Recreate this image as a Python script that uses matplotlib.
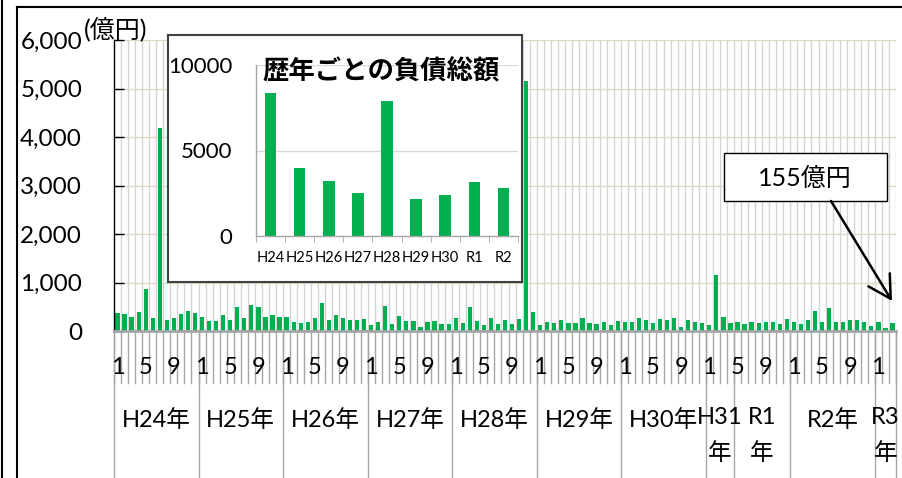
import numpy as np
import matplotlib
matplotlib.use('Agg')
import matplotlib.pyplot as plt
import matplotlib.transforms as mtransforms
from matplotlib.patches import Rectangle, FancyArrowPatch
from matplotlib.lines import Line2D

plt.rcParams['font.family'] = ['Lato', 'Noto Sans CJK JP']

# ---------------- data ----------------
monthly = [
    # H24
    367, 347, 286, 394, 870, 272, 4180, 231, 265, 347, 422, 367,
    # H25
    279, 211, 204, 326, 218, 490, 272, 537, 490, 286, 320, 286,
    # H26
    286, 184, 168, 180, 272, 571, 231, 340, 258, 231, 224, 238,
    # H27
    122, 184, 524, 136, 299, 211, 211, 82, 190, 197, 136, 136,
    # H28
    272, 163, 496, 204, 122, 258, 153, 231, 150, 245, 5155, 388,
    # H29
    116, 190, 163, 218, 163, 163, 258, 163, 136, 190, 129, 204,
    # H30
    177, 177, 258, 231, 163, 245, 218, 258, 75, 218, 177, 163,
    # H31
    122, 1150, 286, 163,
    # R1
    177, 150, 177, 163, 177, 177, 150, 245,
    # R2
    177, 136, 231, 415, 177, 476, 177, 190, 231, 218, 177, 109,
    # R3
    190, 54, 155,
]
month_nums = (list(range(1, 13)) * 7 + [1, 2, 3, 4] + list(range(5, 13))
              + list(range(1, 13)) + [1, 2, 3])
year_groups = ['H24年', 'H25年', 'H26年', 'H27年', 'H28年', 'H29年', 'H30年',
               'H31\n年', 'R1\n年', 'R2年', 'R3\n年']
group_sizes = [12, 12, 12, 12, 12, 12, 12, 4, 8, 12, 3]
main_yticks = [0, 1000, 2000, 3000, 4000, 5000, 6000]

annual_labels = ['H24', 'H25', 'H26', 'H27', 'H28', 'H29', 'H30', 'R1', 'R2']
annual_totals = [8380, 3980, 3240, 2500, 7870, 2150, 2420, 3180, 2810]
inset_yticks = [0, 5000, 10000]
inset_title = '歴年ごとの負債総額'
callout_text = '155億円'
unit_text = '(億円)'

# ---------------- layout helpers ----------------
W, H = 903, 478
fig = plt.figure(figsize=(W / 100, H / 100), dpi=100)
fig.patch.set_facecolor('white')


def fx(x):
    return x / W


def fy(y):
    return 1 - y / H


GREEN = '#00b050'
GRAY = '#a6a6a6'

# ---------------- main chart ----------------
ax = fig.add_axes([fx(114), fy(331), fx(896) - fx(114), fy(40) - fy(331)])
n = len(monthly)
xs = np.arange(n) + 0.5
ax.set_xlim(0, n)
ax.set_ylim(0, 6000)
for v in main_yticks[1:]:
    ax.axhline(v, color='#ddd9c3', lw=1, zorder=0)
ax.vlines(np.arange(1, n + 1), 0, 6000, color='#d4d4d4', lw=1, zorder=0)
ax.bar(xs, monthly, width=0.6, color=GREEN, zorder=2)

for s in ['top', 'right', 'bottom']:
    ax.spines[s].set_visible(False)
ax.spines['left'].set_color('black')
ax.spines['left'].set_linewidth(1)
ax.set_xticks([])
ax.set_yticks(main_yticks)
ax.set_yticklabels([f'{v:,}' for v in main_yticks])
ax.tick_params(axis='y', direction='in', length=7, width=1, pad=23,
               labelsize=17.5, colors='black')
ax.axhline(0, color=GRAY, lw=2, zorder=3, clip_on=False)

trans = mtransforms.blended_transform_factory(ax.transData, fig.transFigure)
# small category ticks below axis
for b in range(n + 1):
    ax.plot([b, b], [fy(331), fy(383)], transform=trans, color=GRAY, lw=1,
            clip_on=False, zorder=1)
# group separators
bounds = np.concatenate([[0], np.cumsum(group_sizes)])
for b in bounds:
    ax.plot([b, b], [fy(331), fy(478)], transform=trans, color=GRAY, lw=1,
            clip_on=False, zorder=1)
# month labels every 4th
for i in range(0, n, 4):
    ax.text(i + 0.5, fy(367), str(month_nums[i]), transform=trans,
            ha='center', va='center', fontsize=17)
# year labels
for lab, s, e in zip(year_groups, bounds[:-1], bounds[1:]):
    c = (s + e) / 2
    if '\n' in lab:
        top, bot = lab.split('\n')
        ax.text(c, fy(417), top, transform=trans, ha='center', va='center',
                fontsize=17)
        ax.text(c, fy(453), bot, transform=trans, ha='center', va='center',
                fontsize=17)
    else:
        ax.text(c, fy(420), lab, transform=trans, ha='center', va='center',
                fontsize=17)

fig.text(fx(84), fy(29), unit_text, ha='left', va='center', fontsize=18)

# ---------------- inset ----------------
axbox = fig.add_axes([fx(168), fy(282), fx(522) - fx(168), fy(35) - fy(282)])
axbox.set_xticks([])
axbox.set_yticks([])
axbox.set_facecolor('white')
for s in axbox.spines.values():
    s.set_color('#404040')
    s.set_linewidth(1.5)

axin = fig.add_axes([fx(256), fy(236), fx(518) - fx(256), fy(65) - fy(236)])
axin.set_facecolor('none')
xi = np.arange(len(annual_totals))
axin.set_xlim(-0.5, len(annual_totals) - 0.5)
axin.set_ylim(0, 10000)
for v in inset_yticks[1:]:
    axin.axhline(v, color='#d9d9d9', lw=1, zorder=0)
axin.bar(xi, annual_totals, width=0.4, color=GREEN, zorder=2)
for s in ['top', 'right']:
    axin.spines[s].set_visible(False)
for s in ['left', 'bottom']:
    axin.spines[s].set_color(GRAY)
    axin.spines[s].set_linewidth(1)
axin.set_yticks(inset_yticks)
axin.set_yticklabels([str(v) for v in inset_yticks])
axin.tick_params(axis='y', length=0, pad=17, labelsize=16)
axin.set_xticks(xi)
axin.set_xticklabels(annual_labels)
axin.set_xticks(np.arange(len(annual_totals) + 1) - 0.5, minor=True)
axin.tick_params(axis='x', which='major', length=0, pad=11, labelsize=10.5)
axin.tick_params(axis='x', which='minor', length=4, color=GRAY, direction='out')

fig.text(fx(381), fy(72), inset_title, ha='center', va='center', fontsize=19,
         fontweight='bold', family=['Noto Sans CJK JP'])

# ---------------- callout ----------------
fig.add_artist(Rectangle((fx(724), fy(201)), fx(887) - fx(724), fy(153) - fy(201),
                         transform=fig.transFigure, facecolor='white',
                         edgecolor='black', lw=1, zorder=5))
fig.text(fx(805), fy(178), callout_text, ha='center', va='center', fontsize=18,
         zorder=6)
fig.add_artist(FancyArrowPatch(posA=(fx(831), fy(201)), posB=(fx(892), fy(301)),
                               transform=fig.transFigure,
                               arrowstyle='->,head_length=0.8,head_width=0.45',
                               mutation_scale=20, lw=1.8, color='black',
                               shrinkA=0, shrinkB=0, zorder=6))

# ---------------- outer frame lines ----------------
fig.add_artist(Line2D([fx(17), fx(17)], [fy(7), 0], transform=fig.transFigure,
                      color='black', lw=1.5))
fig.add_artist(Line2D([fx(17), 1], [fy(7), fy(7)], transform=fig.transFigure,
                      color='black', lw=1.5))
fig.add_artist(Line2D([fx(2), fx(2)], [1, 0], transform=fig.transFigure,
                      color='black', lw=1.5))

fig.savefig('out.png', dpi=100, facecolor='white')
